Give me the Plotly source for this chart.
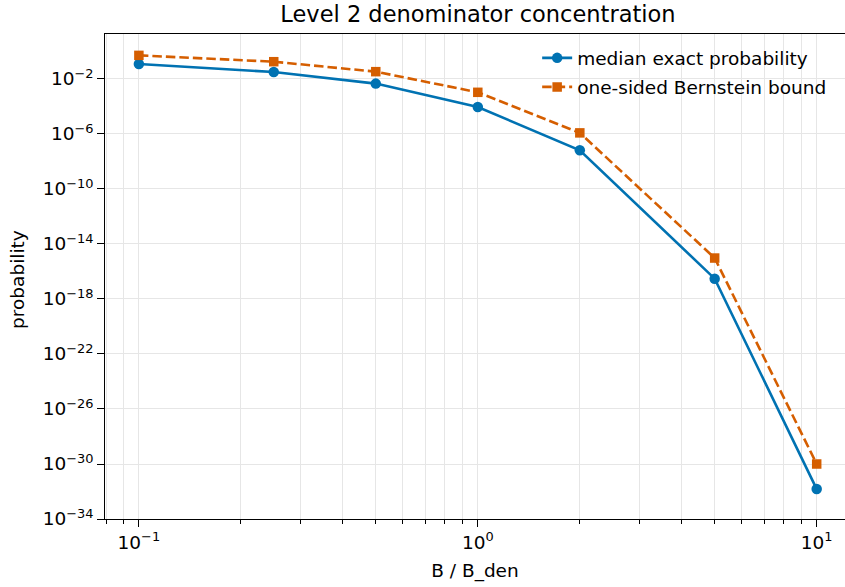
import plotly.graph_objects as go

# Data
ratio = [0.1, 0.25, 0.5, 1.0, 2.0, 5.0, 10.0]
median_exact = [0.123, 0.032, 4.6e-3, 9.1e-5, 6.5e-8, 3.0e-17, 1.5e-32]
bernstein_bound = [0.52, 0.18, 0.034, 1.07e-3, 1.2e-6, 9.5e-16, 1.0e-30]

x_major = [-1, 0, 1]
y_major = list(range(-34, 0, 4))

BLUE = "#0072B2"
ORANGE = "#D55E00"
FONT = "DejaVu Sans"
GRID = "#e6e6e6"
FS = 18.5

def sup(e):
    s = str(e).replace("-", "\u2212")
    return f"10<sup>{s}</sup>"

fig = go.Figure()
fig.add_trace(go.Scatter(
    x=ratio, y=median_exact, mode="lines+markers", name="median exact probability",
    line=dict(color=BLUE, width=2.6), marker=dict(symbol="circle", size=10.5, color=BLUE),
    legendgroup="a"))
fig.add_trace(go.Scatter(
    x=ratio, y=bernstein_bound, mode="lines+markers", name="one-sided Bernstein bound",
    line=dict(color=ORANGE, width=2.6, dash="9.5px,4px"),
    marker=dict(symbol="square", size=9.5, color=ORANGE),
    legendgroup="b"))

minor_x = [k * 10.0 ** d for d in range(-2, 2) for k in range(2, 10)]

fig.update_layout(
    width=845, height=587,
    margin=dict(l=105, r=0, t=34, b=68),
    plot_bgcolor="white", paper_bgcolor="white",
    font=dict(family=FONT, size=FS, color="black"),
    title=dict(text="Level 2 denominator concentration", x=0.504, xref="paper",
               xanchor="center", y=0.976, yanchor="middle", yref="container",
               font=dict(size=22.5, family=FONT, color="black")),
    showlegend=True,
    legend=dict(x=0.584, xanchor="left", y=0.989, yanchor="top",
                bgcolor="rgba(0,0,0,0)", borderwidth=0,
                traceorder="grouped", tracegroupgap=2,
                font=dict(size=FS, family=FONT)),
    annotations=[dict(text="probability", textangle=-90, xref="paper", yref="paper",
                      x=-0.1176, y=0.495, xanchor="center", yanchor="middle",
                      showarrow=False, font=dict(size=FS, family=FONT, color="black"))],
)

fig.update_xaxes(
    type="log", range=[-1.1, 1.0835],
    tickvals=[10.0 ** v for v in x_major], ticktext=[sup(v) for v in x_major],
    ticks="outside", ticklen=6.5, tickwidth=1.4, tickcolor="black",
    showline=True, linecolor="black", linewidth=1.4, mirror=True,
    showgrid=True, gridcolor=GRID, gridwidth=1,
    minor=dict(tickvals=minor_x, ticks="outside", ticklen=3.7, tickwidth=1.1,
               tickcolor="black", showgrid=True, gridcolor=GRID, gridwidth=1),
    zeroline=False,
    title=dict(text="B / B_den", font=dict(size=FS, family=FONT), standoff=12),
    tickfont=dict(size=FS, family=FONT),
)
fig.update_yaxes(
    type="log", range=[-34, 1.27],
    tickvals=[10.0 ** v for v in y_major], ticktext=[sup(v) for v in y_major],
    ticks="outside", ticklen=6.5, tickwidth=1.4, tickcolor="black",
    showline=True, linecolor="black", linewidth=1.4, mirror=False,
    showgrid=True, gridcolor=GRID, gridwidth=1,
    zeroline=False,
    tickfont=dict(size=FS, family=FONT),
)

fig.write_html("out.html")
